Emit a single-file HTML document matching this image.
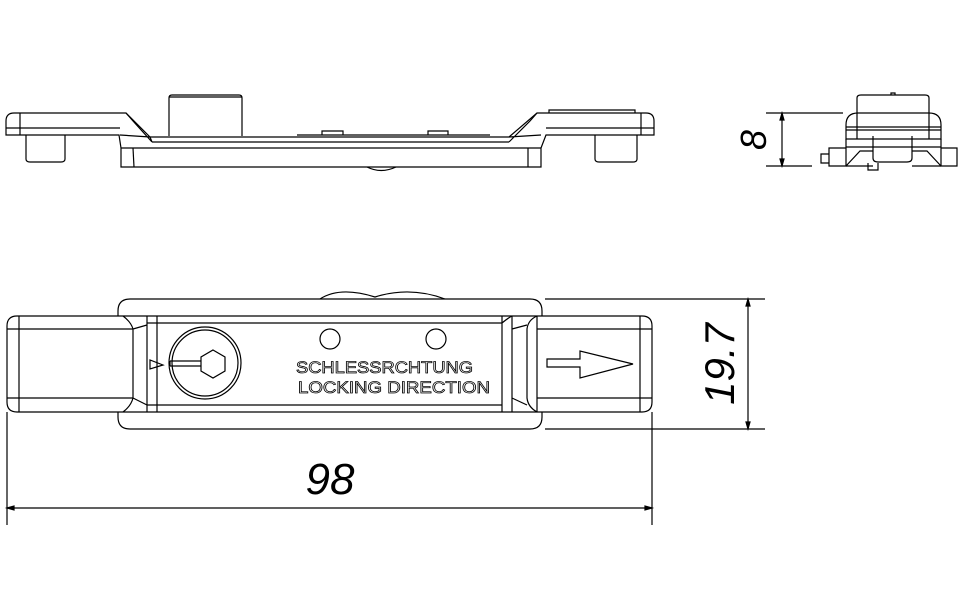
<!DOCTYPE html>
<html><head><meta charset="utf-8"><style>html,body{margin:0;padding:0;background:#fff}svg{display:block}</style></head>
<body>
<svg width="963" height="599" viewBox="0 0 963 599" xmlns="http://www.w3.org/2000/svg" fill="none" stroke="#000" stroke-width="1.2" font-family="Liberation Sans, sans-serif">
<!-- side view -->
<path d="M126,113 H14 Q6,113 6,121 V135 H119 L121,148 V167 H541 V148 L546,135 H654 V121 Q654,113 646,113 H537 L509,137 H150 Z"/>
<line x1="20" y1="113" x2="20" y2="135"/><line x1="6" y1="128" x2="120" y2="128"/>
<line x1="641" y1="113" x2="641" y2="135"/><line x1="546" y1="128" x2="654" y2="128"/>
<path d="M126,113 L133,121 L152,142 M120,135 L150,137 L152,142 M537,113 L530,121 L509,142 M541,135 L509,137"/>
<line x1="121" y1="148" x2="541" y2="148"/><line x1="152" y1="142" x2="509" y2="142"/>
<line x1="133" y1="148" x2="134" y2="167"/><line x1="528" y1="148" x2="528" y2="167"/>
<path d="M169,136 V98 Q169,95 172,95 H239 Q242,95 242,98 V136"/>
<line x1="169" y1="97" x2="242" y2="97"/>
<path d="M322,135 V131 H343 V135 M428,135 V131 H448 V135"/>
<line x1="297" y1="135" x2="490" y2="135"/>
<path d="M549,113 V110 H635 V113"/>
<path d="M26,135 V159 Q26,162 30,162 H61 Q65,162 65,159 V135"/>
<path d="M595,135 V159 Q595,162 599,162 H633 Q637,162 637,159 V135"/>
<path d="M367,167 Q381,174 396,167"/>
<!-- end view -->
<path d="M766,113 H843 M766,166 H812 M782,113 V166"/>
<path d="M782,113 l-2,7 h4 z M782,166 l-2,-7 h4 z" fill="#000"/>
<text transform="translate(766,140) rotate(-90)" font-size="36" fill="#000" stroke="none" text-anchor="middle" font-style="italic">8</text>
<path d="M857,113 V98 Q857,95 861,95 H925 Q929,95 929,98 V113"/>
<path d="M891,95 V93 H895 V95"/>
<path d="M846,139 V125 Q846,113 858,113 H929 Q941,113 941,125 V139 Z"/>
<line x1="846" y1="127" x2="941" y2="127"/><line x1="846" y1="130" x2="941" y2="130"/>
<line x1="857" y1="113" x2="857" y2="139"/><line x1="929" y1="113" x2="929" y2="139"/>
<path d="M846,139 V147 H941 V139"/>
<path d="M829,148 H846 V166 H829 Z M941,148 H957 V166 H941 Z M821,154 H829 V163 H821 Z"/>
<path d="M846,166 L860,151 H873 M941,166 L927,151 H912 M846,166 H873 M912,166 H941"/>
<path d="M873,136 V158 Q873,162 878,162 H907 Q912,162 912,158 V136"/>
<path d="M868,163 V170 H878 V163"/>
<!-- top view -->
<path d="M118,316 V311 Q118,299 130,299 H530 Q542,299 542,311 V316 M118,412 V417 Q118,429 130,429 H530 Q542,429 542,417 V412"/>
<path d="M320,299 Q340,286 375,297 Q410,286 445,299"/>
<path d="M133,316 H17 Q7,316 7,326 V402 Q7,412 17,412 H133"/>
<line x1="19" y1="316" x2="19" y2="412"/>
<line x1="7" y1="329" x2="133" y2="329"/><line x1="7" y1="398" x2="133" y2="398"/>
<line x1="133" y1="316" x2="527" y2="316"/><line x1="133" y1="412" x2="527" y2="412"/>
<path d="M527,316 H642 Q652,316 652,326 V402 Q652,412 642,412 H527"/>
<line x1="640" y1="316" x2="640" y2="412"/>
<line x1="537" y1="329" x2="652" y2="329"/><line x1="537" y1="398" x2="652" y2="398"/>
<line x1="157" y1="323" x2="502" y2="323"/><line x1="157" y1="405" x2="502" y2="405"/>
<path d="M123,316 Q131,322 133,329 V398 Q131,406 123,412 M133,329 L147,325 M133,398 L147,405"/>
<path d="M147,316 V412 M157,316 V412 M147,323 H157 M147,405 H157"/>
<path d="M502,316 V412 M512,316 V412 M502,323 Q508,318 512,316 M512,329 L527,325 M512,398 L527,405"/>
<path d="M537,316 Q528,320 527,329 V398 Q528,407 537,412 M537,316 V412"/>
<circle cx="205" cy="363" r="36"/><circle cx="205" cy="363" r="33"/>
<polygon points="213,350 225,357 225,371 213,378 201,371 201,357"/>
<path d="M170,361 H201 M170,366 H201 M170,361 V366"/>
<polygon points="150,360 150,369 163,365"/>
<circle cx="330" cy="339" r="10"/><circle cx="436" cy="339" r="10"/>
<g fill="#fff" stroke="#000" stroke-width="0.8" font-size="17">
<text x="296" y="373" textLength="177" lengthAdjust="spacingAndGlyphs">SCHLESSRCHTUNG</text>
<text x="298" y="393" textLength="192" lengthAdjust="spacingAndGlyphs">LOCKING  DIRECTION</text>
</g>
<polygon points="547,359 580,359 580,351 633,364 580,378 580,367 547,367"/>
<!-- dims -->
<path d="M545,299 H765 M545,429 H765 M748,299 V429"/>
<path d="M748,299 l-2,7 h4 z M748,429 l-2,-7 h4 z" fill="#000"/>
<text transform="translate(734,364) rotate(-90)" font-size="42" fill="#000" stroke="none" text-anchor="middle" font-style="italic">19.7</text>
<path d="M7,412 V525 M652,412 V525 M7,508 H652"/>
<path d="M7,508 l7,-2 v4 z M652,508 l-7,-2 v4 z" fill="#000"/>
<text x="330" y="494" font-size="44" fill="#000" stroke="none" text-anchor="middle" font-style="italic">98</text>
</svg>
</body></html>
